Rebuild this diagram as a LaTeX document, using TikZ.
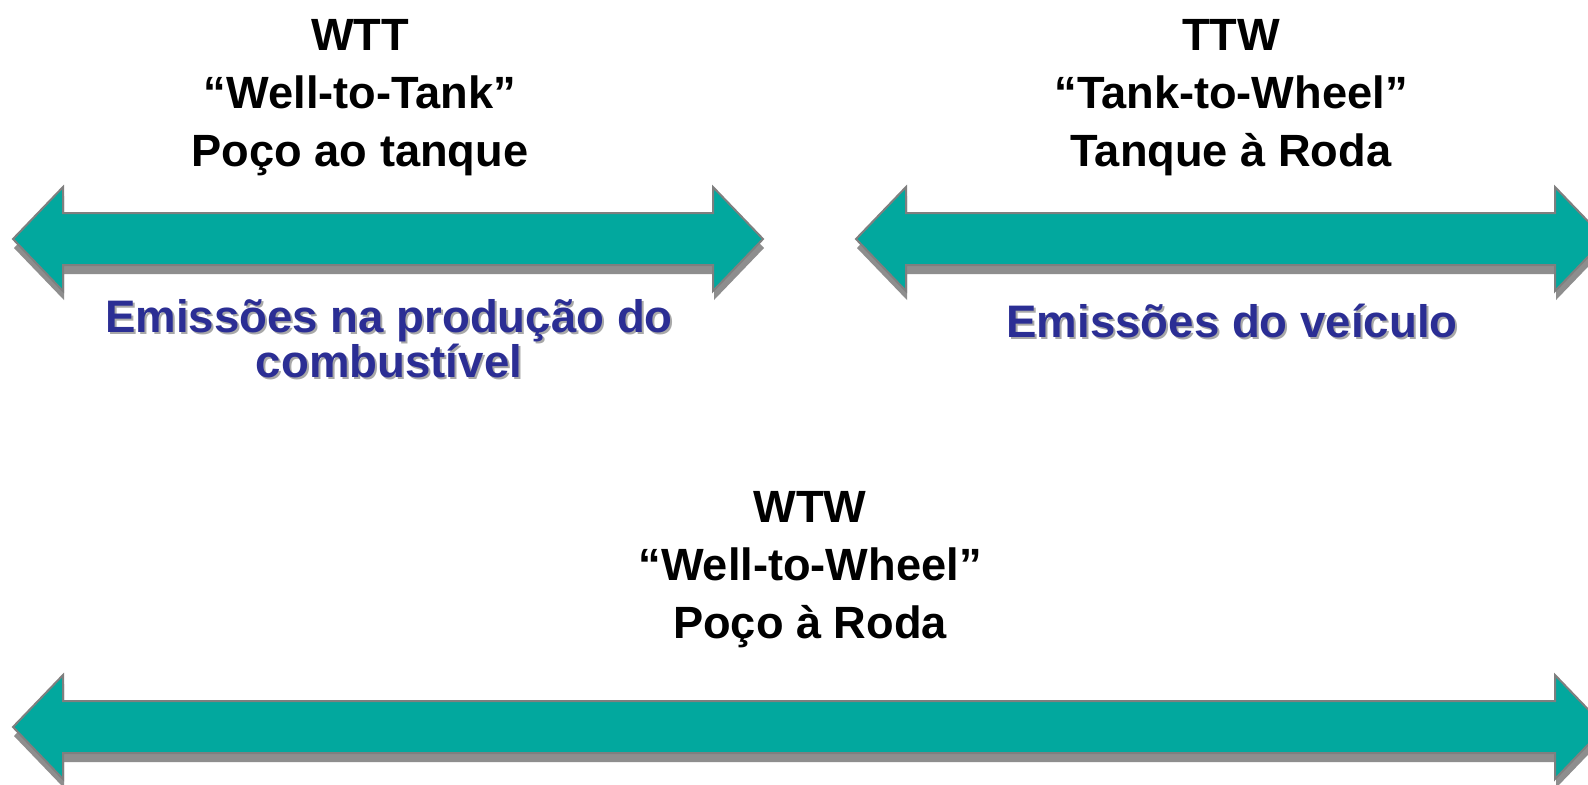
\documentclass[tikz,border=0pt]{standalone}
\usepackage{fontspec}
\setmainfont{Liberation Sans}
\definecolor{arrowteal}{HTML}{02A89E}
\definecolor{textblue}{HTML}{2B2E94}
\definecolor{outlinegray}{HTML}{7F7F7F}
\definecolor{shadowgray}{HTML}{8E8E8E}
\definecolor{textshadow}{HTML}{A8A8A8}
\newcommand\dblarr[3]{% x1 x2 y (pixels)
  \fill[shadowgray] ({#1+1},{#3+9}) -- ({#1+51},{#3-43}) -- ({#1+51},{#3-17}) -- ({#2-49},{#3-17}) -- ({#2-49},{#3-43}) -- ({#2+1},{#3+9}) -- ({#2-49},{#3+61}) -- ({#2-49},{#3+35}) -- ({#1+51},{#3+35}) -- ({#1+51},{#3+61}) -- cycle;
  \draw[arrowbody] (#1,#3) -- ({#1+50},{#3-52}) -- ({#1+50},{#3-26}) -- ({#2-50},{#3-26}) -- ({#2-50},{#3-52}) -- (#2,#3) -- ({#2-50},{#3+52}) -- ({#2-50},{#3+26}) -- ({#1+50},{#3+26}) -- ({#1+50},{#3+52}) -- cycle;
}
\begin{document}
\begin{tikzpicture}[x=0.5pt,y=-0.5pt,
  arrowbody/.style={fill=arrowteal,draw=outlinegray,line width=1pt,line join=miter},
  title/.style={font=\bfseries\fontsize{22.6}{29}\selectfont,align=center,inner sep=0pt,anchor=base,text=black},
  bluelabel/.style={font=\bfseries\fontsize{22.8}{22.5}\selectfont,align=center,inner sep=0pt,anchor=base,text=textblue},
  blueshadow/.style={bluelabel,text=textshadow}]
\useasboundingbox (0,0) rectangle (1588,784);
\clip (0,0) rectangle (1588,784);
\fill[white] (0,0) rectangle (1588,784);
% arrows
\dblarr{13}{763}{239}
\dblarr{856}{1605}{239}
\dblarr{13}{1605}{727}
% titles (anchor = baseline of last line)
\node[title] (wtt) at (360,166) {WTT\\“Well-to-Tank”\\Poço ao tanque};
\node[title] (ttw) at (1231,166) {TTW\\“Tank-to-Wheel”\\Tanque à Roda};
\node[title] (wtw) at (810,638) {WTW\\“Well-to-Wheel”\\Poço à Roda};
% blue labels with shadow
\node[blueshadow] at (391,379) {Emissões na produção do\\combustível};
\node[bluelabel] (emprod) at (389,377) {Emissões na produção do\\combustível};
\node[blueshadow] at (1234,339) {Emissões do veículo};
\node[bluelabel] (emveic) at (1232,337) {Emissões do veículo};
\end{tikzpicture}
\end{document}
